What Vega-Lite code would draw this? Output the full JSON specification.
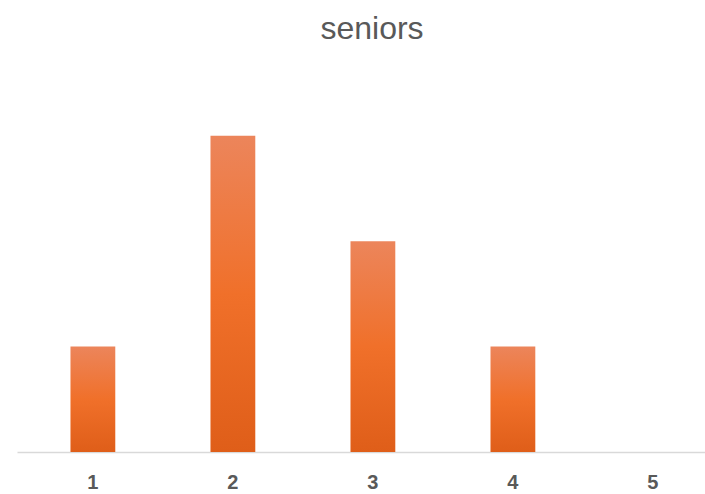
{
  "$schema": "https://vega.github.io/schema/vega-lite/v6.json",
  "width": 688,
  "height": 369,
  "autosize": {"type": "none"},
  "padding": {"left": 17, "right": 0, "top": 83, "bottom": 42},
  "background": "white",
  "title": {
    "text": "seniors",
    "fontSize": 32,
    "font": "Liberation Sans",
    "fontWeight": "normal",
    "color": "#595959",
    "anchor": "middle",
    "frame": "group",
    "baseline": "alphabetic",
    "offset": 12,
    "dx": 11
  },
  "data": {
    "values": [
      {"category": "1", "count": 1},
      {"category": "2", "count": 3},
      {"category": "3", "count": 2},
      {"category": "4", "count": 1},
      {"category": "5", "count": 0}
    ]
  },
  "mark": {
    "type": "bar",
    "color": {
      "gradient": "linear",
      "x1": 0, "y1": 0, "x2": 0, "y2": 1,
      "stops": [
        {"offset": 0, "color": "#EC855B"},
        {"offset": 0.5, "color": "#F0702A"},
        {"offset": 1, "color": "#DF5E19"}
      ]
    }
  },
  "encoding": {
    "x": {
      "field": "category",
      "type": "ordinal",
      "scale": {"paddingInner": 0.68, "paddingOuter": 0.297, "align": 0.643},
      "axis": {
        "title": null,
        "labelAngle": 0,
        "ticks": false,
        "labelFont": "Liberation Sans",
        "labelFontSize": 20,
        "labelFontWeight": "bold",
        "labelColor": "#595959",
        "labelPadding": 20,
        "domainColor": "#d9d9d9",
        "domainWidth": 1.5,
        "grid": false
      }
    },
    "y": {
      "field": "count",
      "type": "quantitative",
      "scale": {"domain": [0, 3.5], "nice": false},
      "axis": null
    }
  },
  "config": {
    "view": {"stroke": null}
  }
}
